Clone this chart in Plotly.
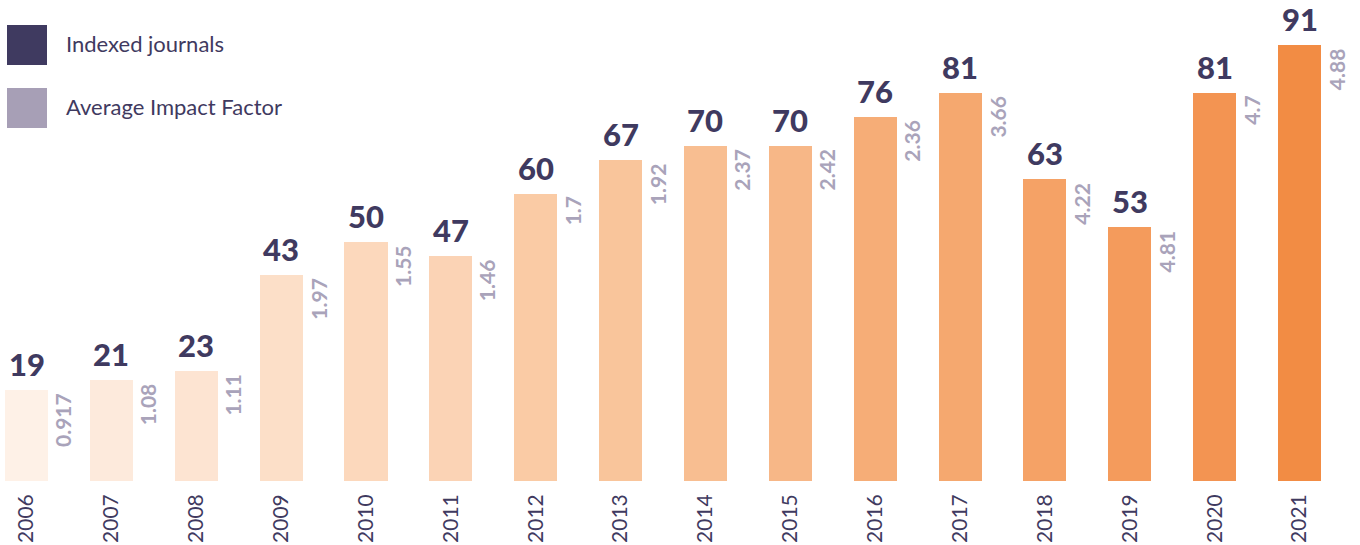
import plotly.graph_objects as go

years = ["2006", "2007", "2008", "2009", "2010", "2011", "2012", "2013",
         "2014", "2015", "2016", "2017", "2018", "2019", "2020", "2021"]
journals = [19, 21, 23, 43, 50, 47, 60, 67, 70, 70, 76, 81, 63, 53, 81, 91]
impact = ["0.917", "1.08", "1.11", "1.97", "1.55", "1.46", "1.7", "1.92",
          "2.37", "2.42", "2.36", "3.66", "4.22", "4.81", "4.7", "4.88"]
bar_colors = ["#FEF1E7", "#FDEADC", "#FDE4D2", "#FCDFC8", "#FCD8BC", "#FBD3B5",
              "#FACBA5", "#F9C59B", "#F8BE91", "#F7B787", "#F6AD77", "#F5A86F",
              "#F5A266", "#F49B5C", "#F39452", "#F28C44"]
legend_labels = ["Indexed journals", "Average Impact Factor"]
legend_colors = ["#3F3A60", "#A79FB6"]

DARK = "#3F3A60"
GREY = "#A9A3BA"
FONT = "Lato"

xs = list(range(len(years)))

fig = go.Figure()
fig.add_trace(go.Bar(x=xs, y=journals, marker=dict(color=bar_colors, line=dict(width=0)),
                     width=0.507, hoverinfo="skip", showlegend=False))

annotations = []
for i in xs:
    annotations.append(dict(x=i, y=journals[i], xref="x", yref="y", text=str(journals[i]),
                            showarrow=False, xanchor="center", yanchor="bottom", yshift=5,
                            font=dict(family=FONT, size=31, color=DARK, weight=900)))
    annotations.append(dict(x=i + 0.43, y=journals[i], xref="x", yref="y", text=f"<b>{impact[i]}</b>",
                            showarrow=False, xanchor="center", yanchor="top", textangle=-90,
                            yshift=-1,
                            font=dict(family=FONT, size=21, color=GREY)))

for k, (lab, col) in enumerate(zip(legend_labels, legend_colors)):
    y0 = 25 + k * 63
    fig.add_shape(type="rect", xref="paper", yref="paper",
                  x0=7 / 1360, x1=47 / 1360, y0=1 - (y0 + 40) / 481,
                  y1=1 - y0 / 481, fillcolor=col, line=dict(width=0), layer="above")
    annotations.append(dict(x=64 / 1360, y=1 - (y0 + 18) / 481, xref="paper", yref="paper",
                            text=lab, showarrow=False, xanchor="left", yanchor="middle",
                            font=dict(family=FONT, size=22, color=DARK)))

fig.update_layout(
    width=1360, height=545,
    margin=dict(l=0, r=0, t=0, b=64, autoexpand=False),
    paper_bgcolor="white", plot_bgcolor="white",
    annotations=annotations,
    bargap=0,
    xaxis=dict(range=[-0.3122, 15.712], tickmode="array", tickvals=xs, ticktext=years,
               tickangle=-90, showgrid=False, zeroline=False, showline=False, ticks="",
               automargin=False,
               tickfont=dict(family=FONT, size=21, color=DARK), ticklabelstandoff=8),
    yaxis=dict(range=[0, 481 / 4.79], showgrid=False, zeroline=False, showline=False,
               showticklabels=False, ticks="", automargin=False),
)

fig.write_html("out.html", config={"displayModeBar": False},
               post_script="document.body.style.margin='0';document.body.style.overflow='hidden';")
